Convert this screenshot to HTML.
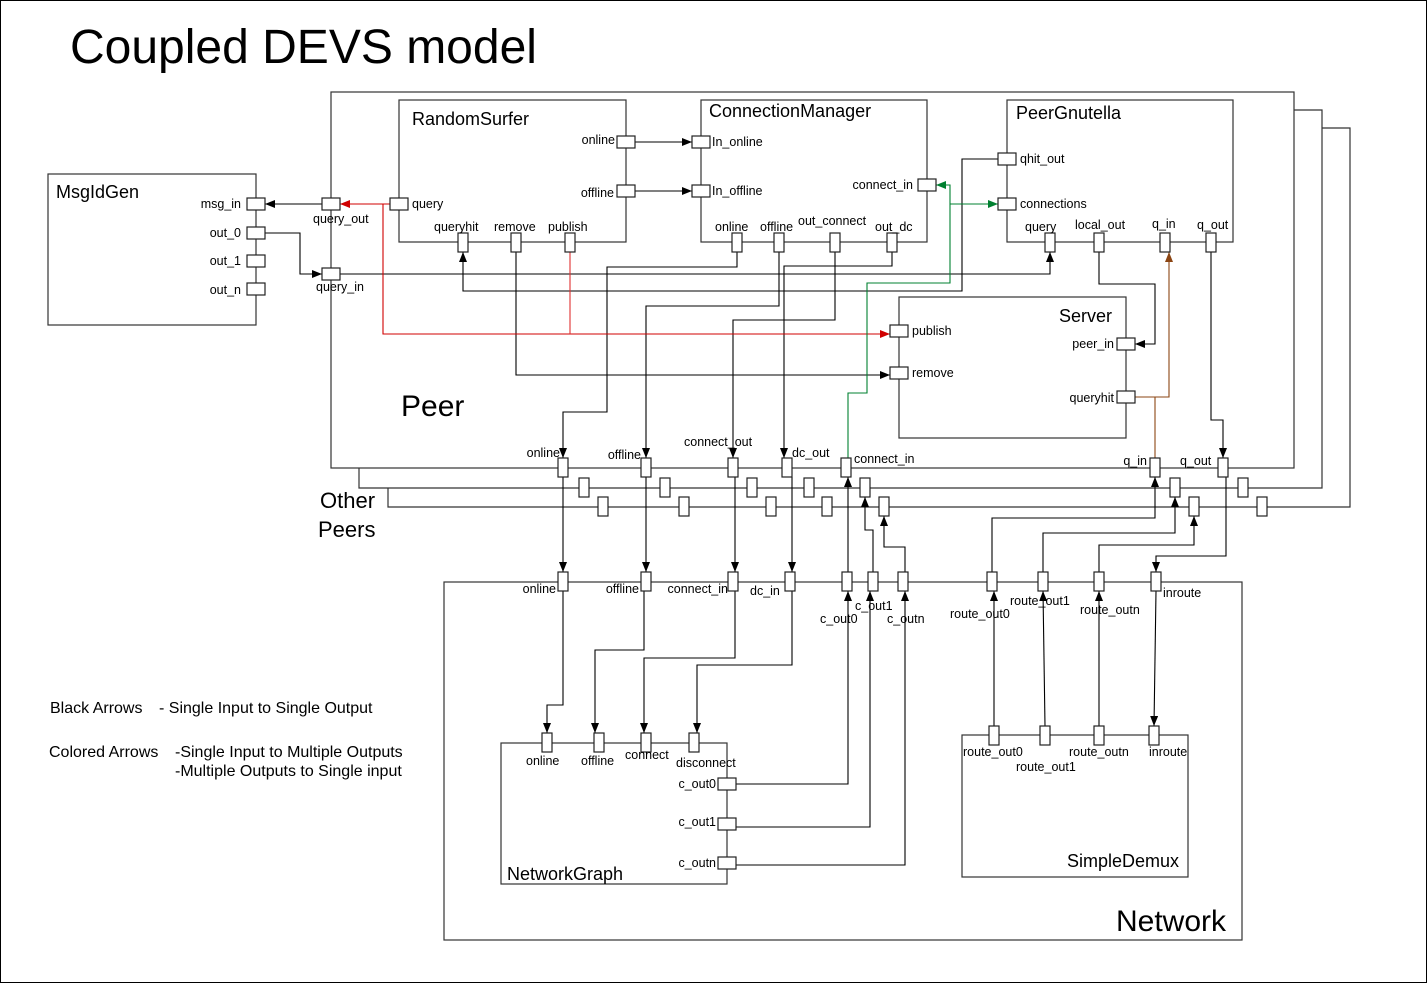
<!DOCTYPE html>
<html><head><meta charset="utf-8"><style>
html,body{margin:0;padding:0;background:#fff}
svg{display:block;font-family:"Liberation Sans",Arial,sans-serif}
</style></head><body>
<svg width="1427" height="983" viewBox="0 0 1427 983" xmlns="http://www.w3.org/2000/svg">
<defs>
<marker id="ab" markerWidth="10" markerHeight="8" refX="10" refY="4" orient="auto" markerUnits="userSpaceOnUse"><path d="M0,0 L10,4 L0,8 z" fill="#000"/></marker>
<marker id="ar" markerWidth="10" markerHeight="8" refX="10" refY="4" orient="auto" markerUnits="userSpaceOnUse"><path d="M0,0 L10,4 L0,8 z" fill="#d00000"/></marker>
<marker id="ag" markerWidth="10" markerHeight="8" refX="10" refY="4" orient="auto" markerUnits="userSpaceOnUse"><path d="M0,0 L10,4 L0,8 z" fill="#008030"/></marker>
<marker id="ao" markerWidth="10" markerHeight="8" refX="10" refY="4" orient="auto" markerUnits="userSpaceOnUse"><path d="M0,0 L10,4 L0,8 z" fill="#8b4513"/></marker>
</defs>
<rect x="0.5" y="0.5" width="1426" height="982" fill="#fff" stroke="#000"/>
<text x="70" y="63" font-size="48">Coupled DEVS model</text>

<g fill="none" stroke="#333" stroke-width="1.2">
<polyline points="1294,110 1322,110 1322,488 359,488 359,468"/>
<polyline points="1322,128 1350,128 1350,507 388,507 388,488"/>
<rect x="331" y="92" width="963" height="376" fill="#fff"/>
<rect x="48" y="174" width="208" height="151"/>
<rect x="399" y="100" width="227" height="142"/>
<rect x="701" y="100" width="226" height="142"/>
<rect x="1007" y="100" width="226" height="142"/>
<rect x="899" y="297" width="227" height="141"/>
<rect x="444" y="582" width="798" height="358"/>
<rect x="501" y="743" width="226" height="141"/>
<rect x="962" y="735" width="226" height="142"/>
</g>

<g fill="none" stroke="#000" stroke-width="1.1">
<line x1="322" y1="204" x2="265" y2="204" marker-end="url(#ab)"/>
<polyline points="265,233 300,233 300,274 322,274" marker-end="url(#ab)"/>
<polyline points="340,274 1050,274 1050,252" marker-end="url(#ab)"/>
<polyline points="998,159 962,159 962,291 463,291 463,252" marker-end="url(#ab)"/>
<line x1="635" y1="142" x2="692" y2="142" marker-end="url(#ab)"/>
<line x1="635" y1="191" x2="692" y2="191" marker-end="url(#ab)"/>
<polyline points="516,252 516,375 890,375" marker-end="url(#ab)"/>
<polyline points="737,252 737,267 607,267 607,412 563,412 563,458" marker-end="url(#ab)"/>
<polyline points="779,252 779,306 646,306 646,458" marker-end="url(#ab)"/>
<polyline points="835,252 835,320 733,320 733,458" marker-end="url(#ab)"/>
<polyline points="892,252 892,266 784,266 784,458" marker-end="url(#ab)"/>
<polyline points="1099,252 1099,284 1155,284 1155,344 1135,344" marker-end="url(#ab)"/>
<polyline points="1211,252 1211,420 1223,420 1223,458" marker-end="url(#ab)"/>
<line x1="563" y1="477" x2="563" y2="572" marker-end="url(#ab)"/>
<line x1="646" y1="477" x2="646" y2="572" marker-end="url(#ab)"/>
<line x1="735" y1="477" x2="735" y2="572" marker-end="url(#ab)"/>
<line x1="792" y1="477" x2="792" y2="572" marker-end="url(#ab)"/>
<line x1="848" y1="572" x2="848" y2="477" marker-end="url(#ab)"/>
<polyline points="873,572 873,530 865,530 865,497" marker-end="url(#ab)"/>
<polyline points="905,572 905,547 884,547 884,516" marker-end="url(#ab)"/>
<polyline points="992,572 992,518 1155,518 1155,477" marker-end="url(#ab)"/>
<polyline points="1043,572 1043,533 1175,533 1175,497" marker-end="url(#ab)"/>
<polyline points="1099,572 1099,545 1194,545 1194,516" marker-end="url(#ab)"/>
<polyline points="1226,477 1226,556 1156,556 1156,572" marker-end="url(#ab)"/>
<polyline points="563,591 563,705 547,705 547,733" marker-end="url(#ab)"/>
<polyline points="644,591 644,650 595,650 595,733" marker-end="url(#ab)"/>
<polyline points="735,591 735,658 644,658 644,733" marker-end="url(#ab)"/>
<polyline points="792,591 792,665 697,665 697,733" marker-end="url(#ab)"/>
<polyline points="736,784 848,784 848,591" marker-end="url(#ab)"/>
<polyline points="736,827 870,827 870,591" marker-end="url(#ab)"/>
<polyline points="736,865 905,865 905,591" marker-end="url(#ab)"/>
<line x1="994" y1="726" x2="994" y2="591" marker-end="url(#ab)"/>
<line x1="1045" y1="726" x2="1043" y2="591" marker-end="url(#ab)"/>
<line x1="1099" y1="726" x2="1099" y2="591" marker-end="url(#ab)"/>
<line x1="1156" y1="591" x2="1154" y2="726" marker-end="url(#ab)"/>
</g>
<g fill="none" stroke="#e03030" stroke-width="1.1">
<line x1="390" y1="204" x2="340" y2="204" stroke="#d00000" marker-end="url(#ar)"/>
<polyline points="383,204 383,334 890,334" stroke="#d00000" marker-end="url(#ar)"/>
<polyline points="570,252 570,334"/>
</g>
<g fill="none" stroke="#008030" stroke-width="1.1">
<polyline points="848,458 848,393 867,393 867,283 950,283 950,185 936,185" marker-end="url(#ag)"/>
<polyline points="950,204 998,204" marker-end="url(#ag)"/>
</g>
<g fill="none" stroke="#8b4513" stroke-width="1.1">
<polyline points="1135,397 1169,397 1169,252" marker-end="url(#ao)"/>
<polyline points="1155,397 1155,458"/>
</g>

<g fill="#fff" stroke="#222" stroke-width="1.2">
<rect x="247" y="198" width="18" height="12"/><rect x="247" y="227" width="18" height="12"/>
<rect x="247" y="255" width="18" height="12"/><rect x="247" y="283" width="18" height="12"/>
<rect x="322" y="198" width="18" height="12"/><rect x="322" y="268" width="18" height="12"/>
<rect x="390" y="198" width="18" height="12"/>
<rect x="617" y="136" width="18" height="12"/><rect x="617" y="185" width="18" height="12"/>
<rect x="692" y="136" width="18" height="12"/><rect x="692" y="185" width="18" height="12"/>
<rect x="918" y="179" width="18" height="12"/>
<rect x="998" y="153" width="18" height="12"/><rect x="998" y="198" width="18" height="12"/>
<rect x="890" y="325" width="18" height="12"/><rect x="890" y="367" width="18" height="12"/>
<rect x="1117" y="338" width="18" height="12"/><rect x="1117" y="391" width="18" height="12"/>
<rect x="718" y="778" width="18" height="12"/><rect x="718" y="818" width="18" height="12"/>
<rect x="718" y="857" width="18" height="12"/>
<rect x="458" y="233" width="10" height="19"/><rect x="511" y="233" width="10" height="19"/><rect x="565" y="233" width="10" height="19"/>
<rect x="732" y="233" width="10" height="19"/><rect x="774" y="233" width="10" height="19"/><rect x="830" y="233" width="10" height="19"/><rect x="887" y="233" width="10" height="19"/>
<rect x="1045" y="233" width="10" height="19"/><rect x="1094" y="233" width="10" height="19"/><rect x="1160" y="233" width="10" height="19"/><rect x="1206" y="233" width="10" height="19"/>
<rect x="558" y="458" width="10" height="19"/><rect x="641" y="458" width="10" height="19"/><rect x="728" y="458" width="10" height="19"/><rect x="782" y="458" width="10" height="19"/><rect x="841" y="458" width="10" height="19"/><rect x="1150" y="458" width="10" height="19"/><rect x="1218" y="458" width="10" height="19"/>
<rect x="579" y="478" width="10" height="19"/><rect x="660" y="478" width="10" height="19"/><rect x="747" y="478" width="10" height="19"/><rect x="804" y="478" width="10" height="19"/><rect x="860" y="478" width="10" height="19"/><rect x="1170" y="478" width="10" height="19"/><rect x="1238" y="478" width="10" height="19"/>
<rect x="598" y="497" width="10" height="19"/><rect x="679" y="497" width="10" height="19"/><rect x="766" y="497" width="10" height="19"/><rect x="822" y="497" width="10" height="19"/><rect x="879" y="497" width="10" height="19"/><rect x="1189" y="497" width="10" height="19"/><rect x="1257" y="497" width="10" height="19"/>
<rect x="558" y="572" width="10" height="19"/><rect x="641" y="572" width="10" height="19"/><rect x="728" y="572" width="10" height="19"/><rect x="785" y="572" width="10" height="19"/><rect x="842" y="572" width="10" height="19"/><rect x="868" y="572" width="10" height="19"/><rect x="898" y="572" width="10" height="19"/>
<rect x="987" y="572" width="10" height="19"/><rect x="1038" y="572" width="10" height="19"/><rect x="1094" y="572" width="10" height="19"/><rect x="1151" y="572" width="10" height="19"/>
<rect x="542" y="733" width="10" height="19"/><rect x="594" y="733" width="10" height="19"/><rect x="641" y="733" width="10" height="19"/><rect x="689" y="733" width="10" height="19"/>
<rect x="989" y="726" width="10" height="19"/><rect x="1040" y="726" width="10" height="19"/><rect x="1094" y="726" width="10" height="19"/><rect x="1149" y="726" width="10" height="19"/>
</g>

<g font-size="18" fill="#000">
<text x="56" y="198">MsgIdGen</text>
<text x="412" y="125">RandomSurfer</text>
<text x="709" y="117">ConnectionManager</text>
<text x="1016" y="119">PeerGnutella</text>
<text x="1112" y="322" text-anchor="end">Server</text>
<text x="507" y="880">NetworkGraph</text>
<text x="1179" y="867" text-anchor="end">SimpleDemux</text>
</g>
<text x="401" y="416" font-size="30">Peer</text>
<text x="1226" y="931" font-size="30" text-anchor="end">Network</text>
<text x="320" y="508" font-size="22">Other</text>
<text x="318" y="537" font-size="22">Peers</text>

<g font-size="12.5" fill="#000">
<g text-anchor="end">
<text x="241" y="208">msg_in</text><text x="241" y="237">out_0</text><text x="241" y="265">out_1</text><text x="241" y="294">out_n</text>
<text x="615" y="144">online</text><text x="614" y="197">offline</text>
<text x="913" y="189">connect_in</text>
<text x="1114" y="348">peer_in</text><text x="1114" y="402">queryhit</text>
<text x="716" y="788">c_out0</text><text x="716" y="826">c_out1</text><text x="716" y="867">c_outn</text>
<text x="556" y="593">online</text><text x="639" y="593">offline</text><text x="728" y="593">connect_in</text>
<text x="560" y="457">online</text><text x="641" y="459">offline</text>
<text x="1147" y="465">q_in</text>
</g>
<text x="313" y="223">query_out</text><text x="316" y="291">query_in</text>
<text x="412" y="208">query</text>
<text x="434" y="231">queryhit</text><text x="494" y="231">remove</text><text x="548" y="231">publish</text>
<text x="712" y="146">In_online</text><text x="712" y="195">In_offline</text>
<text x="715" y="231">online</text><text x="760" y="231">offline</text><text x="798" y="225">out_connect</text><text x="875" y="231">out_dc</text>
<text x="1020" y="163">qhit_out</text><text x="1020" y="208">connections</text>
<text x="1025" y="231">query</text><text x="1075" y="229">local_out</text><text x="1152" y="228">q_in</text><text x="1197" y="229">q_out</text>
<text x="912" y="335">publish</text><text x="912" y="377">remove</text>
<text x="684" y="446">connect_out</text><text x="792" y="457">dc_out</text><text x="854" y="463">connect_in</text>
<text x="1180" y="465">q_out</text>
<text x="750" y="595">dc_in</text><text x="855" y="610">c_out1</text><text x="820" y="623">c_out0</text><text x="887" y="623">c_outn</text>
<text x="950" y="618">route_out0</text><text x="1010" y="605">route_out1</text><text x="1080" y="614">route_outn</text><text x="1163" y="597">inroute</text>
<text x="526" y="765">online</text><text x="581" y="765">offline</text><text x="625" y="759">connect</text><text x="676" y="767">disconnect</text>
<text x="963" y="756">route_out0</text><text x="1016" y="771">route_out1</text><text x="1069" y="756">route_outn</text><text x="1149" y="756">inroute</text>
</g>

<g font-size="16" fill="#000">
<text x="50" y="713">Black Arrows</text><text x="159" y="713">- Single Input to Single Output</text>
<text x="49" y="757">Colored Arrows</text><text x="175" y="757">-Single Input to Multiple Outputs</text>
<text x="175" y="776">-Multiple Outputs to Single input</text>
</g>
</svg>
</body></html>
